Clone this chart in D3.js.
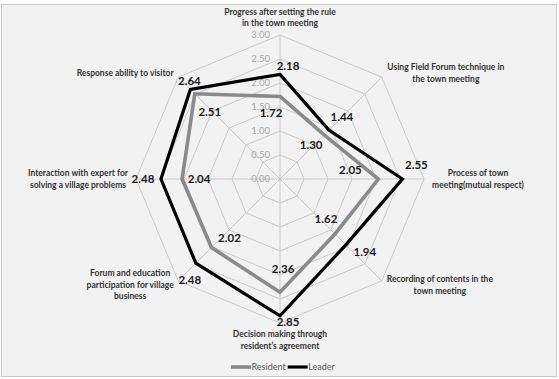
<!DOCTYPE html>
<meta charset="utf-8">
<style>
body { margin: 0; background: #fff; }
text { font-family: Lato, "Open Sans", sans-serif; }
.grid { fill: none; stroke: #c4c4c4; stroke-width: 0.9px; }
.tick-label { font-size: 9.5px; fill: #a6a6a6; }
.cat { font-size: 8.5px; font-weight: 700; fill: #333; }
.val { font-size: 11.5px; font-weight: 700; fill: #1a1a1a; }
.legend { font-size: 9px; fill: #595959; }
</style>
<svg width="559" height="379"></svg>
<script src="https://d3js.org/d3.v7.min.js"></script>
<script>

// axis categories, clockwise from the top
let categories = [
    ["Progress after setting the rule", "in the town meeting"],
    ["Using Field Forum technique in", "the town meeting"],
    ["Process of town", "meeting(mutual respect)"],
    ["Recording of contents in the", "town meeting"],
    ["Decision  making through", "resident\u2019s agreement"],
    ["Forum and education", "participation for village", "business"],
    ["Interaction with expert for", "solving a village problems"],
    ["Response ability to visitor"]
];
let resident = [1.72, 1.30, 2.05, 1.62, 2.36, 2.02, 2.04, 2.51];
let leader   = [2.18, 1.44, 2.55, 1.94, 2.85, 2.48, 2.48, 2.64];
let tickValues = [0, 0.5, 1, 1.5, 2, 2.5, 3];
let seriesNames = ["Resident", "Leader"];

// label nudges (px) relative to the point / outer vertex
let residentOff = [[-9, 17], [-13, 10], [-28, -9], [-9, -15], [3, -23], [18, -10], [17, 0], [15, 18]];
let leaderOff   = [[8, -8], [13, -13], [14, -14], [19, 7], [8, 6], [-6, 17], [-18, 0], [-1, -8]];
let catOff = [[0, -17.5], [64, -4], [54, 0], [58, 4], [0, 17], [-48, 4], [-58, 0], [-53, -4]];

let svg = d3.select("svg"),
    cx = 280, cy = 179, R = 144;

svg.append("rect")
    .attr("x", 1.5).attr("y", 4.5)
    .attr("width", 555).attr("height", 372)
    .attr("fill", "#f2f2f2")
    .attr("stroke", "#c8c8c8");

let g = svg.append("g").attr("transform", "translate(" + cx + "," + cy + ")");

let r = d3.scaleLinear().domain([0, 3]).range([0, R]);
let n = categories.length;
let angle = i => i * 2 * Math.PI / n;
let px = (v, i) => r(v) * Math.sin(angle(i));
let py = (v, i) => -r(v) * Math.cos(angle(i));

let radial = d3.lineRadial()
    .angle((d, i) => angle(i))
    .radius(d => r(d))
    .curve(d3.curveLinearClosed);

// rings
g.selectAll(".ring")
    .data(tickValues.filter(t => t > 0))
    .enter().append("path")
    .attr("class", "grid")
    .attr("d", t => radial(d3.range(n).map(() => t)));

// spokes
g.selectAll(".spoke")
    .data(d3.range(n))
    .enter().append("line")
    .attr("class", "grid")
    .attr("x1", 0).attr("y1", 0)
    .attr("x2", i => px(3, i)).attr("y2", i => py(3, i));

// tick labels along the top axis
g.selectAll(".tick-label")
    .data(tickValues)
    .enter().append("text")
    .attr("class", "tick-label")
    .attr("x", -10)
    .attr("y", t => -r(t))
    .attr("dy", "0.35em")
    .attr("text-anchor", "end")
    .text(t => t.toFixed(2));

// series
let series = [
    {name: "Resident", values: resident, color: "#8a8a8a", width: 3.6, off: residentOff},
    {name: "Leader", values: leader, color: "#000", width: 3.2, off: leaderOff}
];

g.selectAll(".series")
    .data(series)
    .enter().append("path")
    .attr("d", s => radial(s.values))
    .attr("fill", "none")
    .attr("stroke", s => s.color)
    .attr("stroke-width", s => s.width)
    .attr("stroke-linejoin", "miter");

series.forEach(function(s) {
    g.selectAll(".val-" + s.name)
        .data(s.values)
        .enter().append("text")
        .attr("class", "val")
        .attr("text-anchor", "middle")
        .attr("dy", "0.35em")
        .attr("x", (v, i) => px(v, i) + s.off[i][0])
        .attr("y", (v, i) => py(v, i) + s.off[i][1])
        .text(v => v.toFixed(2));
});

// category labels
let cat = g.selectAll(".cat")
    .data(categories)
    .enter().append("text")
    .attr("class", "cat")
    .attr("text-anchor", "middle")
    .attr("transform", (c, i) => "translate(" + (px(3, i) + catOff[i][0]) + "," + (py(3, i) + catOff[i][1]) + ")");

cat.selectAll("tspan")
    .data(c => c.map((line, j) => ({line: line, j: j, k: c.length})))
    .enter().append("tspan")
    .attr("x", 0)
    .attr("y", d => (d.j - (d.k - 1) / 2) * 11.5)
    .attr("dy", "0.35em")
    .text(d => d.line);

// legend
let legend = svg.append("g").attr("transform", "translate(231,367)");
let lx = 0;
series.forEach(function(s) {
    legend.append("line")
        .attr("x1", lx).attr("x2", lx + 20)
        .attr("y1", 0).attr("y2", 0)
        .attr("stroke", s.color)
        .attr("stroke-width", s.width);
    let t = legend.append("text")
        .attr("class", "legend")
        .attr("x", lx + 20.5)
        .attr("dy", "0.35em")
        .text(s.name);
    lx += 20.5 + t.node().getComputedTextLength() + 2;
});

</script>
